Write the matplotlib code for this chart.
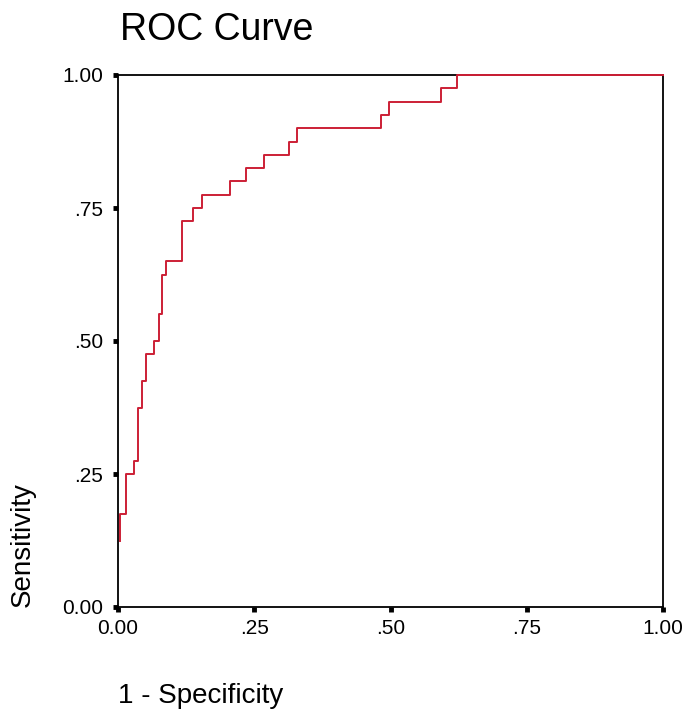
import matplotlib
matplotlib.use('Agg')
import matplotlib.pyplot as plt

plt.rcParams['font.family'] = ['Liberation Sans', 'DejaVu Sans']

# ROC curve vertices (1 - specificity, sensitivity)
fpr = [0.0037, 0.0147, 0.0299, 0.0372, 0.0446, 0.0514, 0.0666, 0.0752, 0.0813,
       0.0875, 0.1174, 0.1382, 0.1536, 0.2064, 0.2349, 0.2679, 0.3138, 0.3279,
       0.482, 0.4978, 0.5921, 0.6215, 1.0]
tpr = [0.125, 0.175, 0.25, 0.275, 0.375, 0.425, 0.475, 0.5, 0.55, 0.625, 0.65,
       0.725, 0.75, 0.775, 0.8, 0.825, 0.85, 0.875, 0.9, 0.925, 0.95, 0.975, 1.0]

tick_vals = [0.0, 0.25, 0.5, 0.75, 1.0]
tick_labels = ['0.00', '.25', '.50', '.75', '1.00']

fig = plt.figure(figsize=(6.84, 7.17), dpi=100)
ax = fig.add_axes([118/684, 1 - 607/717, 545/684, 532/717])

ax.plot(fpr, tpr, drawstyle='steps-pre', color='#cc1f35', lw=1.4,
        zorder=5, clip_on=False)

ax.set_xlim(0, 1)
ax.set_ylim(0, 1)
ax.set_xticks(tick_vals)
ax.set_xticklabels(tick_labels)
ax.set_yticks(tick_vals)
ax.set_yticklabels(tick_labels)

for s in ax.spines.values():
    s.set_linewidth(1.3)
    s.set_color('black')

ax.tick_params(axis='both', direction='out', length=3.5, width=3.5,
               labelsize=15, colors='black')
ax.tick_params(axis='x', pad=5)
ax.tick_params(axis='y', pad=7)

fig.text(120/684, 1 - 40/717, 'ROC Curve', fontsize=27, ha='left', va='baseline')
fig.text(23/684, 1 - 607/717, 'Sensitivity', fontsize=20, rotation=90,
         ha='center', va='bottom')
fig.text(118/684, 1 - 703/717, '1 - Specificity', fontsize=20,
         ha='left', va='baseline')

fig.savefig('out.png', dpi=100)
